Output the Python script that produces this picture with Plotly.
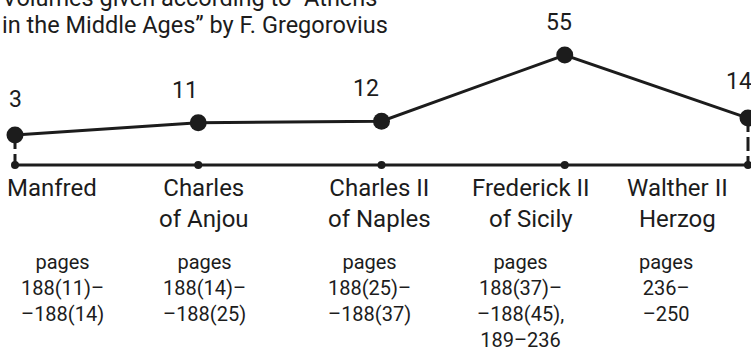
import plotly.graph_objects as go

# Rulers and the number of volumes for each
rulers = ["Manfred", "Charles<br>of Anjou", "Charles II<br>of Naples",
          "Frederick II<br>of Sicily", "Walther II<br>Herzog"]
volumes = [3, 11, 12, 55, 14]
pages = ["pages<br>188(11)–<br>–188(14)",
         "pages<br>188(14)–<br>–188(25)",
         "pages<br>188(25)–<br>–188(37)",
         "pages<br>188(37)–<br>–188(45),<br>189–236",
         "pages<br>236–<br>–250"]
title_lines = ["Volumes given according to “Athens",
               "in the Middle Ages” by F. Gregorovius"]

FONT = "Roboto, sans-serif"
INK = "#1c1c1c"
W, H = 751, 354

xs = list(range(len(rulers)))
baseline = -16.5  # level of the timeline rule below the points

# label offsets (px) relative to each point
value_dx = [0, -13, -16, -6, -9]
value_dy = [36, 32, 33, 33, 37]
name_dx = [37, 6, -2, -34, -71]
page_dx = [47, 6, -12, -44, -82]

fig = go.Figure()

# timeline rule with small ticks at each ruler
fig.add_trace(go.Scatter(
    x=xs, y=[baseline] * len(xs), mode="lines+markers",
    line=dict(color=INK, width=3),
    marker=dict(color=INK, size=8),
    hoverinfo="skip", showlegend=False))

# dashed connectors at both ends
for i in (0, len(xs) - 1):
    fig.add_trace(go.Scatter(
        x=[xs[i], xs[i]], y=[volumes[i], baseline], mode="lines",
        line=dict(color=INK, width=3, dash="14px,5px"),
        hoverinfo="skip", showlegend=False))

# volume line
fig.add_trace(go.Scatter(
    x=xs, y=volumes, mode="lines+markers",
    line=dict(color=INK, width=3),
    marker=dict(color=INK, size=17),
    showlegend=False))

ann = []
for i, v in enumerate(volumes):
    ann.append(dict(x=xs[i], y=v, xref="x", yref="y", text=str(v),
                    showarrow=False, xshift=value_dx[i], yshift=value_dy[i],
                    font=dict(family=FONT, size=23, color=INK)))
    ann.append(dict(x=xs[i], y=1 - 172 / H, xref="x", yref="paper",
                    text=rulers[i], showarrow=False, xshift=name_dx[i],
                    yanchor="top", align="center",
                    font=dict(family=FONT, size=24, color=INK)))
    ann.append(dict(x=xs[i], y=1 - 248 / H, xref="x", yref="paper",
                    text=pages[i], showarrow=False, xshift=page_dx[i],
                    yanchor="top", align="center",
                    font=dict(family=FONT, size=20, color=INK)))

for line, cy in zip(title_lines, [-2, 25]):
    ann.append(dict(x=0, y=1 - cy / H, xref="paper", yref="paper",
                    text=line, showarrow=False, xanchor="left",
                    yanchor="middle",
                    font=dict(family=FONT, size=23.5, color=INK)))

px_per_x = (748 - 15) / 4
px_per_y = 80 / 52
ymax = 55 + 55 / px_per_y
fig.update_layout(
    width=W, height=H, margin=dict(l=0, r=0, t=0, b=0),
    paper_bgcolor="white", plot_bgcolor="white",
    xaxis=dict(range=[-15 / px_per_x, 4 + (W - 748) / px_per_x],
               visible=False, fixedrange=True),
    yaxis=dict(range=[ymax - H / px_per_y, ymax],
               visible=False, fixedrange=True),
    annotations=ann,
)

fig.write_html("out.html")
